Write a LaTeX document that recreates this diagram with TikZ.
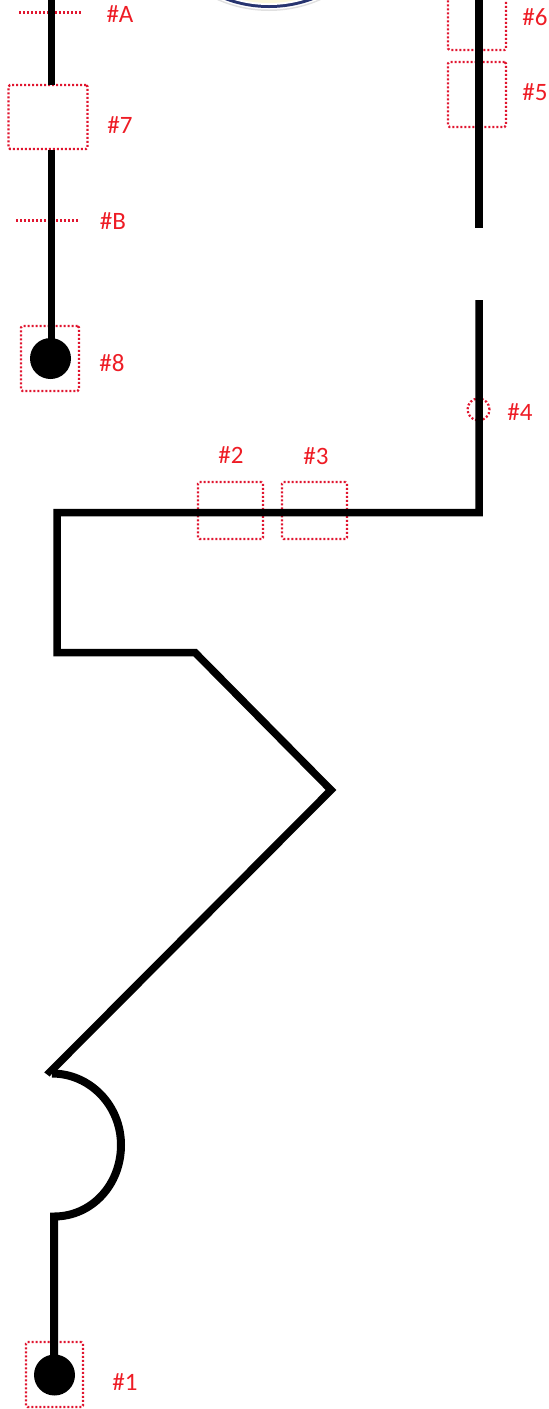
\documentclass[tikz,border=0pt]{standalone}
\usepackage{fontspec}
\setmainfont{Carlito}
\definecolor{markred}{HTML}{E0152F}
\definecolor{labelred}{HTML}{EE1C25}
\definecolor{sealblue}{HTML}{27346F}
\definecolor{sealcream}{HTML}{FBF8DC}
\tikzset{
  trace/.style={line width=7.5pt,black,line join=miter,miter limit=10},
  thintrace/.style={line width=8pt,black,line join=miter,miter limit=10},
  pad/.style={circle,fill=black,draw=none,minimum size=41pt,inner sep=0pt,outer sep=0pt},
  markbox/.style={draw=markred,line width=2.2pt,dash pattern=on 2pt off 2pt,rounded corners=1.5pt,inner sep=0pt,outer sep=0pt},
  markcut/.style={draw=markred,line width=2.2pt,dash pattern=on 2pt off 2pt},
  markring/.style={circle,draw=markred,line width=2.2pt,dash pattern=on 2pt off 2pt,inner sep=0pt,outer sep=0pt,minimum size=22pt},
  tag/.style={text=labelred,font=\fontsize{25}{25}\selectfont,inner sep=0pt}
}
\begin{document}
\begin{tikzpicture}[x=1pt,y=-1pt]
\useasboundingbox (0,0) rectangle (549,1409);
\clip (0,0) rectangle (549,1409);
% seal cut off by the top edge
\fill[black!12] (269,-117) circle (128);
\fill[white] (269,-117) circle (126.5);
\fill[sealblue] (269,-117) circle (125);
\fill[white] (269,-117) circle (122);
\fill[sealcream] (269,-117) circle (120);
% marker boxes
\node[markbox,minimum width=57pt,minimum height=65pt] (m1) at (54.5,1374.5) {};
\node[markbox,minimum width=65pt,minimum height=57pt] (m2) at (230.5,510.5) {};
\node[markbox,minimum width=65pt,minimum height=57pt] (m3) at (314.5,510.5) {};
\node[markring] (m4) at (478.5,409.5) {};
\node[markbox,minimum width=58pt,minimum height=65pt] (m5) at (477,94.5) {};
\node[markbox,minimum width=58pt,minimum height=70pt] (m6) at (477,15) {};
\node[markbox,minimum width=79pt,minimum height=64pt] (m7) at (48,117) {};
\node[markbox,minimum width=58pt,minimum height=65pt] (m8) at (50,358.5) {};
\coordinate (aL) at (19,12.5); \coordinate (aR) at (82,12.5);
\coordinate (bL) at (16,220.5); \coordinate (bR) at (79,220.5);
\draw[markcut] (aL) -- (aR);
\draw[markcut] (bL) -- (bR);
% traces
\node[pad] (p1) at (54.5,1375) {};
\node[pad] (p8) at (50.5,358.5) {};
\coordinate (top1) at (51.5,-5);
\coordinate (a1) at (51.5,85);
\coordinate (a2) at (51.5,150);
\coordinate (a3) at (51.5,358);
\coordinate (r0) at (479,-5);
\coordinate (r1) at (479,228);
\coordinate (r2) at (479,300);
\coordinate (c1) at (479,512.5);
\coordinate (c2) at (57,512.5);
\coordinate (c3) at (57,652.5);
\coordinate (c4) at (195,652.5);
\coordinate (c5) at (331,790);
\coordinate (c6) at (50,1072);
\coordinate (arcTop) at (52,1073.5);
\coordinate (arcBot) at (54,1216.5);
\coordinate (b0) at (54,1375);
\draw[trace] (top1) -- (a1);
\draw[trace] (a2) -- (a3);
\draw[trace] (r0) -- (r1);
\draw[trace] (r2) -- (c1) -- (c2) -- (c3) -- (c4) -- (c5) -- (c6) -- (arcTop);
\draw[thintrace] (b0) -- (arcBot) .. controls (92,1216.5) and (121,1184.5) .. (121,1145) .. controls (121,1105.5) and (90,1073.5) .. (arcTop);
% labels
\node[tag] (l1) at (125,1382) {\#1};
\node[tag] (l2) at (231,455) {\#2};
\node[tag] (l3) at (316,456) {\#3};
\node[tag] (l4) at (520,412) {\#4};
\node[tag] (l5) at (535,92) {\#5};
\node[tag] (l6) at (535,17) {\#6};
\node[tag] (l7) at (120,125) {\#7};
\node[tag] (l8) at (112,363) {\#8};
\node[tag] (lA) at (120,14) {\#A};
\node[tag] (lB) at (113,221) {\#B};
\end{tikzpicture}
\end{document}
